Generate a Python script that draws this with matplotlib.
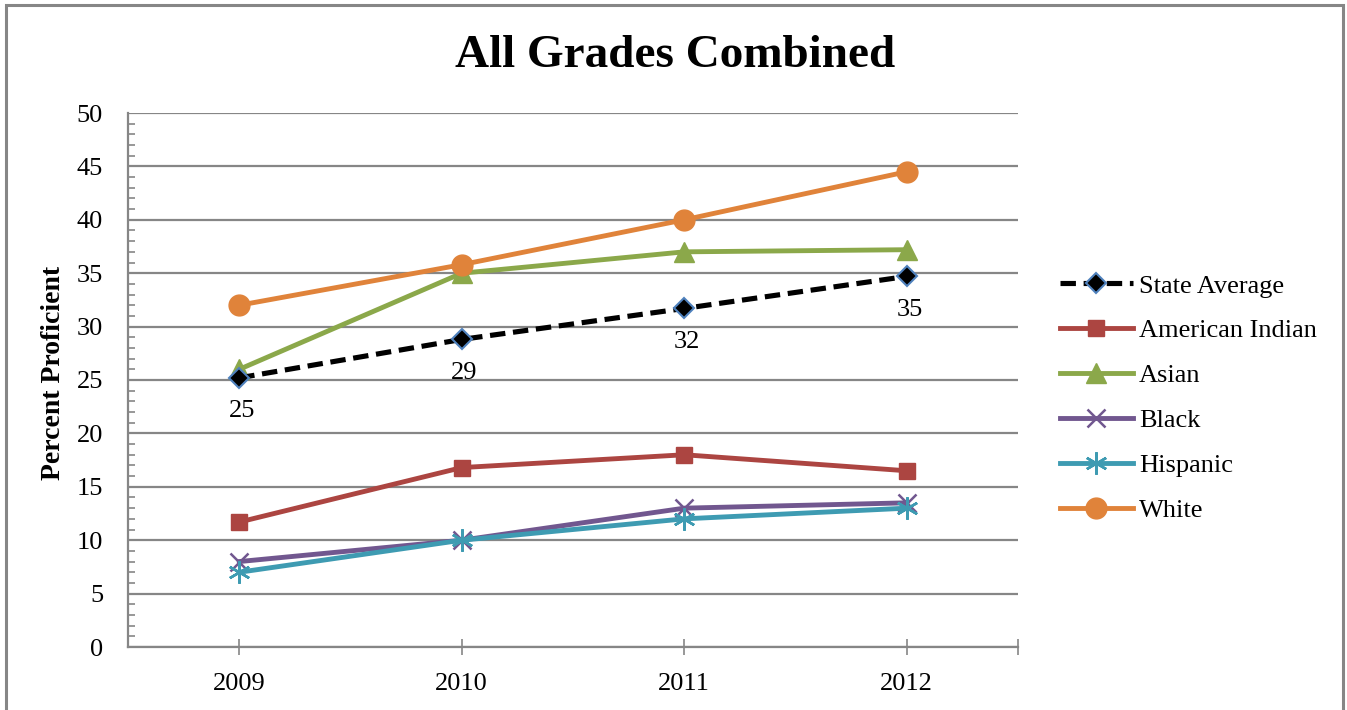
import numpy as np
import matplotlib.pyplot as plt
from matplotlib.patches import Rectangle
from matplotlib.ticker import MultipleLocator, FixedLocator

# data
YEARS = ['2009', '2010', '2011', '2012']
state_avg = [25.2, 28.8, 31.7, 34.7]
american_indian = [11.7, 16.8, 18.0, 16.5]
asian = [26.0, 35.0, 37.0, 37.2]
black = [8.0, 10.0, 13.0, 13.5]
hispanic = [7.0, 10.0, 12.0, 13.0]
white = [32.0, 35.8, 40.0, 44.5]

GRID = '#868686'

plt.rcParams['font.family'] = ['Liberation Serif', 'DejaVu Serif']

fig = plt.figure(figsize=(13.47, 7.10), dpi=100)
ax = fig.add_axes([128/1347, 1-647/710, (1018-128)/1347, (647-113)/710])

x = np.arange(len(YEARS))
LW = 3.5

ax.plot(x, state_avg, color='black', lw=3.7, ls=(0, (3.0, 1.5)), marker='D', ms=10,
        mfc='black', mec='#4F81BD', mew=1.5, label='State Average', zorder=6)
ax.plot(x, american_indian, color='#AC4541', lw=LW, marker='s', ms=11, label='American Indian')
ax.plot(x, asian, color='#8BA84A', lw=LW, marker='^', ms=15, label='Asian')
ax.plot(x, black, color='#71578F', lw=LW, marker='x', ms=13, mew=1.8, label='Black')
ax.plot(x, hispanic, color='#3E9BB2', lw=LW, marker=(6, 2, 0), ms=16, mew=1.8, label='Hispanic')
ax.plot(x, white, color='#E0833A', lw=LW, marker='o', ms=15, label='White')

for xi, v in zip(x, state_avg):
    ax.annotate(f'{v:.0f}', (xi, v), xytext=(2, -24), textcoords='offset points',
                ha='center', va='center', fontsize=19)

ax.set_xlim(-0.5, 3.5)
ax.set_ylim(0, 50)
ax.yaxis.set_major_locator(MultipleLocator(5))
ax.yaxis.set_minor_locator(MultipleLocator(1))
ax.xaxis.set_major_locator(FixedLocator(list(x) + [3.5]))
ax.set_xticklabels(YEARS + [''])
ax.grid(axis='y', color=GRID, lw=1.6)
ax.set_axisbelow(True)

for s in ['top', 'right']:
    ax.spines[s].set_visible(False)
for s in ['left', 'bottom']:
    ax.spines[s].set_color(GRID)
    ax.spines[s].set_linewidth(1.6)

ax.tick_params(axis='y', which='major', length=0, labelsize=19, pad=18)
ax.tick_params(axis='y', which='minor', direction='in', length=5, color=GRID, width=1.2)
ax.tick_params(axis='x', direction='inout', length=12, color=GRID, width=1.2,
               labelsize=19, pad=13)

ax.set_ylabel('Percent Proficient', fontsize=20, fontweight='bold')
ax.yaxis.set_label_coords(-0.070, 0.513)
fig.text(0.501, 0.921, 'All Grades Combined', ha='center', va='center',
         fontsize=34, fontweight='bold')

ax.legend(loc='center left', bbox_to_anchor=(1060/1347, 1-398/710), bbox_transform=fig.transFigure,
          frameon=False, fontsize=19, handlelength=2.75, labelspacing=0.81, handletextpad=0.25,
          borderaxespad=0, borderpad=0)

fig.patches.append(Rectangle((6/1347, -0.05), (1343-6)/1347, 1.05 - 5/710,
                             transform=fig.transFigure, fill=False, ec=GRID, lw=2.2))

fig.savefig('out.png', dpi=100)
